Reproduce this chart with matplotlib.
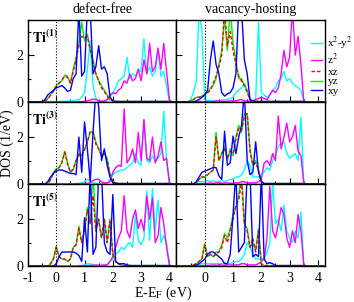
import numpy as np
import matplotlib
matplotlib.use('Agg')
import matplotlib.pyplot as plt
from matplotlib.ticker import MultipleLocator

plt.rcParams['font.family'] = 'serif'
plt.rcParams['font.serif'] = ['Liberation Serif', 'DejaVu Serif']
plt.rcParams['mathtext.fontset'] = 'stix'
plt.rcParams['axes.unicode_minus'] = False

# energy grid (eV), -1.0 .. 4.2 in steps of 0.1
energy = np.round(np.arange(-1.0, 4.21, 0.1), 2)

# ---- defect-free, Ti(1)
df1_x2y2 = [0, 0, 0, 0, 0, 0, 0, 0, 0, 0.02,
            0.02, 0.02, 0.03, 0.03, 0.03, 0.05, 0.05, 0.08, 0.1, 0.2,
            0.4, 1.4, 2.6, 0.7, 0.15, 0.05, 0.02, 0.02, 0.05, 0.2,
            0.35, 0.6, 0.9, 1.0, 1.1, 1.9, 1.0, 1.2, 1.1, 1.4,
            1.3, 2.7, 1.2, 1.5, 1.1, 1.3, 2.2, 1.1, 1.3, 0.65,
            0.05, 0, 0]
df1_z2 = [0, 0, 0, 0, 0, 0, 0, 0, 0, 0,
          0, 0, 0, 0, 0, 0, 0, 0, 0.02, 0.02,
          0.03, 0.05, 0.08, 0.12, 0.1, 0.05, 0.03, 0.05, 0.1, 0.3,
          0.4, 0.35, 0.5, 0.6, 0.9, 0.8, 1.2, 0.9, 1.0, 1.4,
          0.9, 1.8, 1.2, 2.5, 1.3, 1.5, 2.3, 1.4, 2.5, 1.3,
          0.1, 0, 0]
df1_xz = [0, 0, 0, 0, 0, 0, 0.05, 0.12, 0.3, 0.45,
          0.65, 0.8, 0.95, 1.1, 1.05, 0.8, 1.3, 1.8, 2.4, 2.8,
          2.7, 2.8, 2.2, 1.7, 1.2, 0.9, 0.6, 0.45, 0.25, 0.1,
          0.05, 0.02, 0.02, 0.02, 0.02, 0.02, 0.02, 0.02, 0.02, 0.02,
          0.02, 0.02, 0.02, 0.02, 0.02, 0.02, 0.02, 0.02, 0.02, 0.02,
          0.02, 0, 0]
df1_yz = [0, 0, 0, 0, 0, 0, 0.05, 0.15, 0.3, 0.5,
          0.7, 0.8, 0.9, 1.15, 1.1, 0.8, 1.4, 1.9, 2.5, 3.4,
          2.6, 2.9, 2.3, 1.8, 1.2, 0.9, 0.7, 0.5, 0.3, 0.1,
          0.05, 0.02, 0.02, 0.02, 0.02, 0.02, 0.02, 0.02, 0.02, 0.02,
          0.02, 0.02, 0.02, 0.02, 0.02, 0.02, 0.02, 0.02, 0.02, 0.02,
          0.02, 0, 0]
df1_xy = [0, 0, 0, 0, 0, 0, 0.1, 0.3, 0.4, 0.5,
          0.6, 0.65, 0.7, 0.6, 0.45, 0.5, 1.0, 1.2, 4.0, 1.1,
          1.3, 4.0, 4.0, 1.2, 1.5, 2.4, 1.4, 1.5, 1.2, 0.2,
          0.05, 0.02, 0.02, 0.02, 0.02, 0.02, 0.02, 0.02, 0.02, 0.02,
          0.02, 0.02, 0.02, 0.02, 0.02, 0.02, 0.02, 0.02, 0.02, 0.02,
          0.02, 0, 0]

# ---- vacancy-hosting, Ti(1)
vh1_x2y2 = [0, 0, 0, 0, 0, 0.1, 0.4, 0.9, 4.0, 3.0,
            0.1, 0.05, 0.05, 0.05, 0.05, 0.05, 0.08, 0.1, 0.1, 0.15,
            0.2, 0.4, 0.5, 0.6, 0.8, 0.5, 0.1, 0.05, 0.1, 3.4,
            0.4, 0.3, 0.2, 0.3, 0.5, 0.6, 0.9, 1.0, 1.3, 0.9,
            1.0, 0.8, 0.7, 0.6, 0.5, 0.05, 0, 0, 0, 0,
            0, 0, 0]
vh1_z2 = [0, 0, 0, 0, 0, 0, 0, 0.02, 0.02, 0.02,
          0.02, 0.02, 0.02, 0.02, 0.05, 0.05, 0.03, 0.03, 0.03, 0.05,
          0.05, 0.05, 0.08, 0.1, 0.05, 0.05, 0.03, 0.05, 0.1, 0.15,
          0.2, 0.15, 0.1, 0.3, 0.5, 0.4, 0.6, 1.2, 2.2, 1.5,
          1.9, 4.0, 2.0, 2.8, 1.6, 0.05, 0, 0, 0, 0,
          0, 0, 0]
vh1_xz = [0, 0, 0, 0, 0, 0.05, 0.1, 0.2, 0.2, 0.25,
          0.3, 0.4, 0.5, 0.8, 1.1, 1.5, 2.0, 4.0, 2.4, 3.0,
          2.2, 1.6, 1.1, 0.9, 0.7, 0.4, 0.1, 0.02, 0.02, 0.02,
          0.02, 0.02, 0.02, 0.02, 0.02, 0.02, 0.02, 0.02, 0.02, 0.02,
          0.02, 0.02, 0.02, 0.02, 0.02, 0.02, 0, 0, 0, 0,
          0, 0, 0]
vh1_yz = [0, 0, 0, 0, 0, 0.05, 0.1, 0.2, 0.2, 0.25,
          0.3, 0.4, 0.6, 0.7, 1.0, 1.6, 2.2, 3.6, 2.2, 4.0,
          2.5, 1.8, 1.0, 1.0, 0.7, 0.5, 0.1, 0.03, 0.02, 0.02,
          0.02, 0.02, 0.02, 0.02, 0.02, 0.02, 0.02, 0.02, 0.02, 0.02,
          0.02, 0.02, 0.02, 0.02, 0.02, 0.02, 0, 0, 0, 0,
          0, 0, 0]
vh1_xy = [0, 0, 0, 0, 0, 0, 0, 0.05, 0.1, 0.2,
          0.3, 0.5, 1.8, 2.6, 1.6, 1.2, 0.4, 0.25, 0.35, 0.4,
          0.6, 1.2, 4.0, 4.0, 1.8, 1.2, 0.1, 0.05, 0.02, 0.02,
          0.02, 0.02, 0.02, 0.02, 0.02, 0.02, 0.02, 0.02, 0.02, 0.02,
          0.02, 0.02, 0.02, 0.02, 0.02, 0.02, 0, 0, 0, 0,
          0, 0, 0]

# ---- defect-free, Ti(3)
df3_x2y2 = [0, 0, 0, 0, 0, 0, 0, 0, 0, 0,
            0, 0, 0, 0, 0, 0, 0, 0, 0.02, 0.05,
            0.1, 0.2, 0.15, 0.05, 0.02, 0.02, 0.02, 0.02, 0.05, 0.2,
            0.4, 0.5, 0.55, 0.6, 0.6, 0.7, 0.8, 0.9, 1.3, 0.9,
            0.8, 2.7, 1.0, 0.9, 1.2, 1.0, 1.1, 1.3, 3.1, 1.0,
            0.05, 0, 0]
df3_z2 = [0, 0, 0, 0, 0, 0, 0, 0, 0, 0,
          0, 0, 0, 0, 0, 0, 0, 0.02, 0.02, 0.02,
          0.02, 0.03, 0.05, 0.15, 0.2, 0.2, 0.1, 0.05, 0.05, 0.1,
          0.5, 0.7, 0.8, 0.75, 3.2, 0.9, 1.1, 1.5, 0.9, 2.2,
          1.0, 2.75, 1.1, 1.0, 2.0, 0.9, 1.2, 1.8, 1.0, 1.1,
          0.05, 0, 0]
df3_xz = [0, 0, 0, 0, 0, 0, 0, 0, 0.2, 0.45,
          0.6, 0.7, 0.9, 1.35, 0.85, 0.5, 0.65, 1.0, 1.25, 1.2,
          1.45, 1.8, 2.25, 2.2, 1.7, 1.5, 1.2, 1.3, 1.0, 0.4,
          0.1, 0.05, 0.02, 0.02, 0.02, 0.02, 0.02, 0.02, 0.02, 0.02,
          0.02, 0.02, 0.02, 0.02, 0.02, 0.02, 0.02, 0.02, 0.02, 0.02,
          0.02, 0, 0]
df3_yz = [0, 0, 0, 0, 0, 0, 0, 0, 0.2, 0.5,
          0.65, 0.7, 0.95, 1.4, 0.9, 0.5, 0.6, 1.0, 1.3, 1.2,
          1.5, 1.8, 2.2, 2.25, 1.8, 1.5, 1.2, 1.3, 1.1, 0.4,
          0.1, 0.05, 0.02, 0.02, 0.02, 0.02, 0.02, 0.02, 0.02, 0.02,
          0.02, 0.02, 0.02, 0.02, 0.02, 0.02, 0.02, 0.02, 0.02, 0.02,
          0.02, 0, 0]
df3_xy = [0, 0, 0, 0, 0, 0, 0, 0.1, 0.3, 0.45,
          0.55, 0.6, 0.6, 0.55, 0.5, 0.45, 0.45, 0.4, 2.0, 0.5,
          2.65, 1.5, 0.1, 2.2, 4.0, 3.3, 1.0, 1.5, 0.8, 0.3,
          0.05, 0.02, 0.02, 0.02, 0.02, 0.02, 0.02, 0.02, 0.02, 0.02,
          0.02, 0.02, 0.02, 0.02, 0.02, 0.02, 0.02, 0.02, 0.02, 0.02,
          0.02, 0, 0]

# ---- vacancy-hosting, Ti(3)
vh3_x2y2 = [0, 0, 0, 0, 0, 0, 0.02, 0.05, 0.1, 0.1,
            0.1, 0.15, 0.1, 0.15, 0.1, 0.1, 0.15, 0.1, 0.15, 0.2,
            0.2, 0.3, 0.3, 0.4, 0.6, 1.0, 0.8, 0.3, 0.3, 0.3,
            0.4, 0.5, 0.7, 0.6, 1.0, 1.2, 1.6, 1.75, 1.8, 1.3,
            1.1, 1.2, 1.3, 1.0, 2.85, 0.05, 0, 0, 0, 0,
            0, 0, 0]
vh3_z2 = [0, 0, 0, 0, 0, 0, 0, 0.02, 0.02, 0.02,
          0.02, 0.03, 0.05, 0.03, 0.05, 0.05, 0.03, 0.05, 0.05, 0.03,
          0.05, 0.05, 0.05, 0.1, 0.1, 0.05, 0.05, 0.05, 0.05, 0.1,
          0.2, 0.9, 1.0, 0.8, 1.3, 1.0, 2.9, 1.5, 2.0, 2.6,
          1.8, 2.0, 2.5, 1.4, 1.2, 0.05, 0, 0, 0, 0,
          0, 0, 0]
vh3_xz = [0, 0, 0, 0, 0, 0, 0, 0.05, 0.2, 0.3,
          0.3, 0.4, 0.5, 0.6, 2.0, 1.0, 1.3, 1.5, 1.1, 1.4,
          1.3, 1.9, 2.4, 2.3, 2.9, 3.0, 1.4, 0.8, 0.9, 0.6,
          0.1, 0.02, 0.02, 0.02, 0.02, 0.02, 0.02, 0.02, 0.02, 0.02,
          0.02, 0.02, 0.02, 0.02, 0.02, 0.02, 0, 0, 0, 0,
          0, 0, 0]
vh3_yz = [0, 0, 0, 0, 0, 0, 0, 0.05, 0.2, 0.3,
          0.3, 0.4, 0.5, 0.6, 2.2, 1.0, 1.3, 1.6, 1.0, 1.5,
          1.2, 2.0, 2.5, 2.2, 3.0, 3.0, 1.5, 0.8, 1.0, 0.6,
          0.1, 0.02, 0.02, 0.02, 0.02, 0.02, 0.02, 0.02, 0.02, 0.02,
          0.02, 0.02, 0.02, 0.02, 0.02, 0.02, 0, 0, 0, 0,
          0, 0, 0]
vh3_xy = [0, 0, 0, 0, 0, 0, 0, 0.1, 0.3, 0.5,
          0.55, 0.6, 0.65, 0.7, 0.7, 0.35, 0.2, 2.25, 0.8, 0.9,
          2.05, 1.3, 2.0, 2.5, 4.0, 1.0, 0.4, 0.5, 1.8, 0.5,
          0.1, 0.02, 0.02, 0.02, 0.02, 0.02, 0.02, 0.02, 0.02, 0.02,
          0.02, 0.02, 0.02, 0.02, 0.02, 0.02, 0, 0, 0, 0,
          0, 0, 0]

# ---- defect-free, Ti(5)
df5_x2y2 = [0, 0, 0, 0, 0, 0, 0, 0, 0, 0,
            0, 0, 0, 0, 0, 0, 0, 0, 0.02, 0.02,
            0.05, 0.1, 0.1, 0.05, 0.02, 0.02, 0.02, 0.02, 0.05, 0.2,
            0.3, 0.5, 0.6, 0.8, 0.7, 0.9, 1.0, 0.8, 2.2, 1.1,
            0.9, 1.2, 3.2, 1.1, 3.3, 1.5, 2.8, 1.0, 1.3, 1.0,
            0.05, 0, 0]
df5_z2 = [0, 0, 0, 0, 0, 0, 0, 0, 0, 0,
          0, 0, 0, 0, 0, 0, 0, 0, 0.02, 0.02,
          0.02, 0.02, 0.03, 0.03, 0.05, 0.03, 0.03, 0.05, 0.05, 0.2,
          0.4, 0.8, 1.2, 1.5, 3.0, 1.5, 1.2, 2.0, 2.4, 1.6,
          2.0, 1.5, 3.0, 2.0, 2.9, 1.0, 1.3, 2.5, 1.8, 0.8,
          0.05, 0, 0]
df5_xz = [0, 0, 0, 0, 0, 0, 0, 0, 0.1, 0.3,
          0.8, 0.4, 0.3, 0.3, 0.2, 0.3, 0.8, 0.9, 1.6, 1.0,
          1.5, 2.4, 1.8, 3.0, 1.5, 2.0, 1.2, 2.0, 1.0, 1.9,
          0.5, 0.2, 0.1, 0.05, 0.02, 0.02, 0.02, 0.02, 0.02, 0.02,
          0.02, 0.02, 0.02, 0.02, 0.02, 0.02, 0.02, 0.02, 0.02, 0.02,
          0.02, 0, 0]
df5_yz = [0, 0, 0, 0, 0, 0, 0, 0, 0.1, 0.3,
          0.83, 0.4, 0.3, 0.3, 0.2, 0.3, 0.8, 0.9, 1.7, 1.0,
          1.5, 2.5, 1.8, 4.0, 1.5, 2.0, 1.2, 2.0, 1.0, 2.0,
          0.5, 0.2, 0.1, 0.05, 0.02, 0.02, 0.02, 0.02, 0.02, 0.02,
          0.02, 0.02, 0.02, 0.02, 0.02, 0.02, 0.02, 0.02, 0.02, 0.02,
          0.02, 0, 0]
df5_xy = [0, 0, 0, 0, 0, 0, 0, 0, 0, 0,
          0.1, 0.4, 0.6, 0.6, 0.6, 0.6, 0.6, 0.55, 0.45, 0.2,
          2.06, 0.6, 4.0, 0.5, 0.8, 4.0, 4.0, 1.0, 0.6, 0.5,
          3.05, 0.2, 0.1, 0.1, 0.1, 0.05, 0.02, 0.02, 0.02, 0.02,
          0.02, 0.02, 0.02, 0.02, 0.02, 0.02, 0.02, 0.02, 0.02, 0.02,
          0.02, 0, 0]

# ---- vacancy-hosting, Ti(5)
vh5_x2y2 = [0, 0, 0, 0, 0, 0, 0, 0.02, 0.05, 0.1,
            0.1, 0.1, 0.1, 0.1, 0.1, 0.1, 0.1, 0.15, 0.1, 0.1,
            0.15, 0.2, 0.2, 0.3, 0.5, 1.0, 0.8, 0.5, 0.3, 0.3,
            0.3, 0.3, 0.6, 1.0, 3.6, 1.8, 2.0, 1.5, 2.6, 1.5,
            1.2, 1.0, 1.5, 1.2, 2.3, 0.05, 0, 0, 0, 0,
            0, 0, 0]
vh5_z2 = [0, 0, 0, 0, 0, 0, 0, 0.02, 0.02, 0.02,
          0.02, 0.03, 0.03, 0.05, 0.03, 0.05, 0.05, 0.03, 0.05, 0.05,
          0.05, 0.05, 0.05, 0.1, 0.1, 0.05, 0.05, 0.05, 0.05, 0.1,
          0.2, 0.3, 1.2, 3.4, 1.5, 1.2, 1.8, 2.5, 2.2, 1.2,
          0.8, 1.5, 1.0, 2.2, 1.5, 0.05, 0, 0, 0, 0,
          0, 0, 0]
vh5_xz = [0, 0, 0, 0, 0, 0, 0.05, 0.1, 0.2, 0.3,
          0.9, 0.4, 0.5, 0.4, 0.5, 0.6, 0.8, 1.3, 1.0, 1.5,
          2.0, 2.6, 2.8, 3.6, 1.8, 1.5, 0.8, 1.2, 0.6, 1.5,
          0.1, 0.02, 0.02, 0.02, 0.02, 0.02, 0.02, 0.02, 0.02, 0.02,
          0.02, 0.02, 0.02, 0.02, 0.02, 0.02, 0, 0, 0, 0,
          0, 0, 0]
vh5_yz = [0, 0, 0, 0, 0, 0, 0.05, 0.1, 0.2, 0.3,
          0.97, 0.4, 0.5, 0.4, 0.6, 0.6, 0.9, 1.4, 1.2, 1.6,
          2.2, 2.5, 3.0, 4.0, 1.8, 1.6, 0.8, 1.0, 0.7, 1.6,
          0.1, 0.02, 0.02, 0.02, 0.02, 0.02, 0.02, 0.02, 0.02, 0.02,
          0.02, 0.02, 0.02, 0.02, 0.02, 0.02, 0, 0, 0, 0,
          0, 0, 0]
vh5_xy = [0, 0, 0, 0, 0, 0, 0, 0.05, 0.1, 0.2,
          0.3, 0.5, 0.6, 0.6, 0.5, 0.4, 0.3, 0.1, 0.1, 0.5,
          2.19, 4.0, 0.6, 0.8, 1.0, 4.0, 4.0, 0.4, 0.5, 0.4,
          4.0, 0.3, 0.1, 0.15, 0.1, 0.02, 0.02, 0.02, 0.02, 0.02,
          0.02, 0.02, 0.02, 0.02, 0.02, 0.02, 0, 0, 0, 0,
          0, 0, 0]

orbitals = ['x$^2$-y$^2$', 'z$^2$', 'xz', 'yz', 'xy']
site_labels = ['(1)', '(3)', '(5)']
panel_titles = ['defect-free', 'vacancy-hosting']

panels = [
    [[df1_x2y2, df1_z2, df1_xz, df1_yz, df1_xy],
     [vh1_x2y2, vh1_z2, vh1_xz, vh1_yz, vh1_xy]],
    [[df3_x2y2, df3_z2, df3_xz, df3_yz, df3_xy],
     [vh3_x2y2, vh3_z2, vh3_xz, vh3_yz, vh3_xy]],
    [[df5_x2y2, df5_z2, df5_xz, df5_yz, df5_xy],
     [vh5_x2y2, vh5_z2, vh5_xz, vh5_yz, vh5_xy]],
]

colors = ['#00ffff', '#ff00ff', '#ff0000', '#00ee00', '#0000ff']
# draw order: x2-y2, z2, yz, xz (dashed on top of yz), xy
order = [0, 1, 3, 2, 4]

fig = plt.figure(figsize=(3.54, 3.02), dpi=100)
axes = fig.subplots(3, 2)
fig.subplots_adjust(left=0.079, right=0.918, bottom=0.119, top=0.934,
                    wspace=0, hspace=0)

handles = [None] * 5
for r in range(3):
    for c in range(2):
        ax = axes[r, c]
        series = panels[r][c]
        for k in order:
            ls = (0, (2.5, 1.5)) if k == 2 else '-'
            line, = ax.plot(energy, series[k], color=colors[k], lw=1.0,
                            ls=ls)
            handles[k] = line
        ax.axvline(0, color='black', ls=':', lw=0.8)
        ax.set_xlim(-1, 4.25)
        ax.set_ylim(0, 3.5)
        ax.yaxis.set_major_locator(MultipleLocator(2))
        ax.yaxis.set_minor_locator(MultipleLocator(1))
        if c == 0:
            ax.set_xticks([-1, 0, 1, 2, 3, 4])
        else:
            ax.set_xticks([0, 1, 2, 3, 4])
        ax.xaxis.set_minor_locator(MultipleLocator(0.5))
        ax.tick_params(which='both', direction='in', top=False, right=False,
                       labelsize=10)
        ax.tick_params(which='major', length=4, width=0.8)
        ax.tick_params(which='minor', length=2, width=0.8)
        ax.tick_params(axis='x', pad=4)
        if r < 2:
            ax.tick_params(labelbottom=False)
        if c == 1:
            ax.tick_params(labelleft=False)
        for sp in ax.spines.values():
            sp.set_linewidth(1.0)
        if c == 0:
            ax.text(0.025, 0.79, r'$\mathbf{Ti^{' + site_labels[r] + '}}$',
                    transform=ax.transAxes, fontsize=10, va='center')
axes[0, 0].set_title(panel_titles[0], fontsize=10, pad=5)
axes[0, 1].set_title(panel_titles[1], fontsize=10, pad=5)

fig.text(0.02, 0.526, 'DOS (1/eV)', rotation=90, ha='center', va='center',
         fontsize=10)
fig.text(0.46, 0.03, r'E-E$_\mathrm{F}$ (eV)', ha='center', va='center',
         fontsize=10)

fig.legend(handles, orbitals, loc='upper left', bbox_to_anchor=(0.878, 0.885),
           frameon=False, fontsize=8, handlelength=1.0, handletextpad=0.5,
           labelspacing=0.0, borderpad=0, borderaxespad=0)

fig.savefig('out.png', dpi=100)
